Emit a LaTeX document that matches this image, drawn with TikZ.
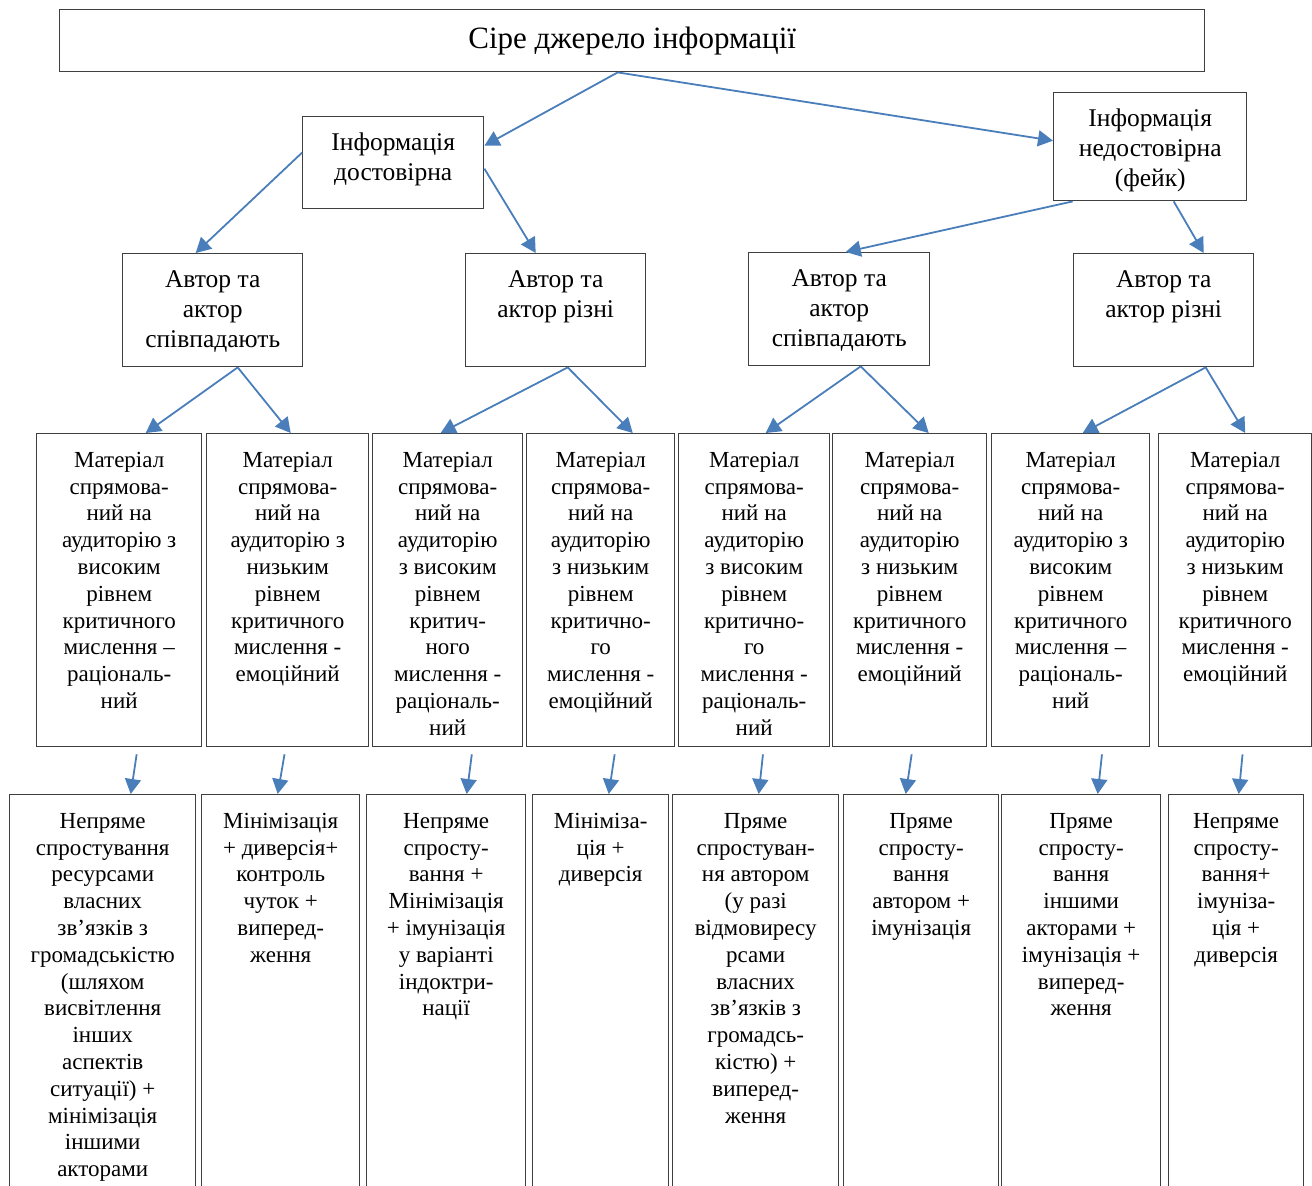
\documentclass[tikz,border=0pt]{standalone}
\usepackage{fontspec}
\setmainfont{Liberation Serif}
\usetikzlibrary{arrows.meta}

\definecolor{arrowblue}{HTML}{4A7EBB}
\definecolor{boxgray}{HTML}{3F3F3F}

\begin{document}
\begin{tikzpicture}[
		x=1pt, y=-1pt,
		cell/.style 2 args={
			draw=boxgray,
			line width=1.4pt,
			inner sep=0pt,
			anchor=north west,
			execute at begin node={\begin{minipage}[t][#2][t]{#1}\centering\rule{0pt}{33.5pt}\ignorespaces},
			execute at end node={\end{minipage}}
		},
		big/.style={font=\fontsize{25.5}{30}\selectfont},
		small/.style={font=\fontsize{23}{26.8}\selectfont},
		link/.style={-{Triangle[width=16pt,length=15pt]}, draw=arrowblue, fill=arrowblue, line width=1.8pt}
		]
		\useasboundingbox (0,0) rectangle (1312,1186);

		\node[draw=boxgray,
			  line width=1.4pt,
			  anchor=north west,
			  minimum width=1145pt,
			  minimum height=62pt,
			  font=\fontsize{31}{37}\selectfont] (source) at (59,9) {Сіре джерело інформації};

		\node[cell={181pt}{92pt}, big] (reliable) at (302,116) {Інформація\\достовірна};
		\node[cell={193pt}{108pt}, big] (fake) at (1053,92) {Інформація\\недостовірна\\(фейк)};

		\node[cell={180pt}{113pt}, big] (sameA) at (122,253) {Автор та\\актор\\співпадають};
		\node[cell={180pt}{113pt}, big] (diffA) at (465,253) {Автор та\\актор різні};
		\node[cell={181pt}{113pt}, big] (sameB) at (748,252) {Автор та\\актор\\співпадають};
		\node[cell={180pt}{113pt}, big] (diffB) at (1073,253) {Автор та\\актор різні};

		\node[cell={165pt}{313pt}, small] (highA) at (36,433) {Матеріал\\спрямова-\\ний на\\аудиторію з\\високим\\рівнем\\критичного\\мислення –\\раціональ-\\ний};
		\node[cell={162pt}{313pt}, small] (lowA) at (206,433) {Матеріал\\спрямова-\\ний на\\аудиторію з\\низьким\\рівнем\\критичного\\мислення -\\емоційний};
		\node[cell={150pt}{313pt}, small] (highB) at (372,433) {Матеріал\\спрямова-\\ний на\\аудиторію\\з високим\\рівнем\\критич-\\ного\\мислення -\\раціональ-\\ний};
		\node[cell={148pt}{313pt}, small] (lowB) at (526,433) {Матеріал\\спрямова-\\ний на\\аудиторію\\з низьким\\рівнем\\критично-\\го\\мислення -\\емоційний};
		\node[cell={151pt}{313pt}, small] (highC) at (678,433) {Матеріал\\спрямова-\\ний на\\аудиторію\\з високим\\рівнем\\критично-\\го\\мислення -\\раціональ-\\ний};
		\node[cell={154pt}{313pt}, small] (lowC) at (832,433) {Матеріал\\спрямова-\\ний на\\аудиторію\\з низьким\\рівнем\\критичного\\мислення -\\емоційний};
		\node[cell={158pt}{313pt}, small] (highD) at (991,433) {Матеріал\\спрямова-\\ний на\\аудиторію з\\високим\\рівнем\\критичного\\мислення –\\раціональ-\\ний};
		\node[cell={153pt}{313pt}, small] (lowD) at (1158,433) {Матеріал\\спрямова-\\ний на\\аудиторію\\з низьким\\рівнем\\критичного\\мислення -\\емоційний};

		% bottom row runs past the page edge
		\node[cell={186pt}{420pt}, small] (tacticA) at (9,794) {Непряме\\спростування\\ресурсами\\власних\\зв’язків з\\громадськістю\\(шляхом\\висвітлення\\інших\\аспектів\\ситуації) +\\мінімізація\\іншими\\акторами};
		\node[cell={158pt}{420pt}, small] (tacticB) at (201,794) {Мінімізація\\+ диверсія+\\контроль\\чуток +\\виперед-\\ження};
		\node[cell={159pt}{420pt}, small] (tacticC) at (366,794) {Непряме\\спросту-\\вання +\\Мінімізація\\+ імунізація\\у варіанті\\індоктри-\\нації};
		\node[cell={136pt}{420pt}, small] (tacticD) at (532,794) {Мініміза-\\ція +\\диверсія};
		\node[cell={166pt}{420pt}, small] (tacticE) at (672,794) {Пряме\\спростуван-\\ня автором\\(у разі\\відмовиресу\\рсами\\власних\\зв’язків з\\громадсь-\\кістю) +\\виперед-\\ження};
		\node[cell={155pt}{420pt}, small] (tacticF) at (843,794) {Пряме\\спросту-\\вання\\автором +\\імунізація};
		\node[cell={159pt}{420pt}, small] (tacticG) at (1001,794) {Пряме\\спросту-\\вання\\іншими\\акторами +\\імунізація +\\виперед-\\ження};
		\node[cell={135pt}{420pt}, small] (tacticH) at (1168,794) {Непряме\\спросту-\\вання+\\імуніза-\\ція +\\диверсія};

		\draw[link] ([xshift=-14.5pt]source.south) -- ([yshift=17pt]reliable.east);
		\draw[link] ([xshift=-14.5pt]source.south) -- ([yshift=6pt]fake.west);
		\draw[link] ([yshift=10pt]reliable.west) -- ([xshift=-17pt]sameA.north);
		\draw[link] ([yshift=-6pt]reliable.east) -- ([xshift=-20pt]diffA.north);
		\draw[link] ([xshift=-77.5pt]fake.south) -- ([xshift=6.5pt]sameB.north);
		\draw[link] ([xshift=23.5pt]fake.south) -- ([xshift=40pt]diffB.north);

		\draw[link] ([xshift=25pt]sameA.south) -- ([xshift=26.5pt]highA.north);
		\draw[link] ([xshift=25pt]sameA.south) -- ([xshift=3pt]lowA.north);
		\draw[link] ([xshift=12pt]diffA.south) -- ([xshift=-7pt]highB.north);
		\draw[link] ([xshift=12pt]diffA.south) -- ([xshift=32pt]lowB.north);
		\draw[link] ([xshift=21.5pt]sameB.south) -- ([xshift=11.5pt]highC.north);
		\draw[link] ([xshift=21.5pt]sameB.south) -- ([xshift=19pt]lowC.north);
		\draw[link] ([xshift=42pt]diffB.south) -- ([xshift=12pt]highD.north);
		\draw[link] ([xshift=42pt]diffB.south) -- ([xshift=10pt]lowD.north);

		\draw[link, shorten <=7pt] ([xshift=18.5pt]highA.south) -- ([xshift=28pt]tacticA.north);
		\draw[link, shorten <=7pt] ([xshift=-2pt]lowA.south) -- ([xshift=-3pt]tacticB.north);
		\draw[link, shorten <=7pt] ([xshift=25pt]highB.south) -- ([xshift=20.5pt]tacticC.north);
		\draw[link, shorten <=7pt] ([xshift=15pt]lowB.south) -- ([xshift=8pt]tacticD.north);
		\draw[link, shorten <=7pt] ([xshift=9.5pt]highC.south) -- ([xshift=3pt]tacticE.north);
		\draw[link, shorten <=7pt] ([xshift=3pt]lowC.south) -- ([xshift=-15.5pt]tacticF.north);
		\draw[link, shorten <=7pt] ([xshift=32pt]highD.south) -- ([xshift=16.5pt]tacticG.north);
		\draw[link, shorten <=7pt] ([xshift=8pt]lowD.south) -- ([xshift=2.5pt]tacticH.north);
		\end{tikzpicture}
\end{document}
